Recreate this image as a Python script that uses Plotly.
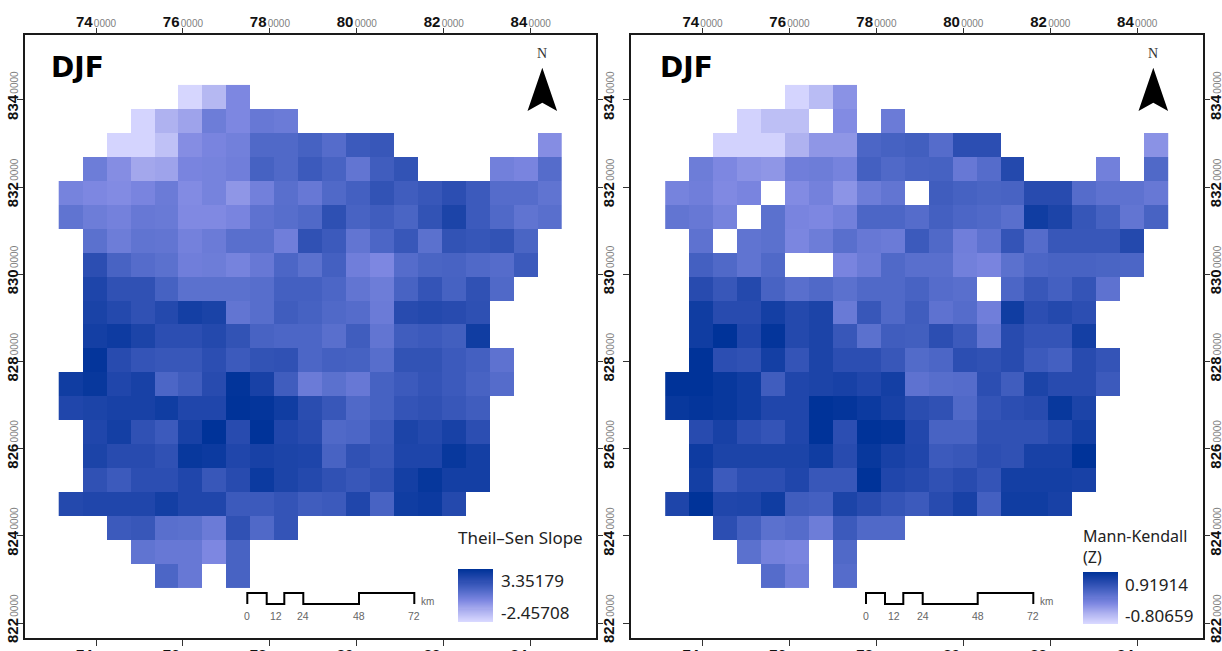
import plotly.graph_objects as go

N = None
W, H = 1222, 651

# Cell colours, as percent of each legend's colour stretch (rows north to south)
slope_pct = [
    [N]*5 + [1, 17, 40] + [N]*13,
    [N]*3 + [2, 20, 27, 47, 40, 50, 48] + [N]*11,
    [N]*2 + [2, 2, 12, 37, 42, 45, 60, 60, 65, 58, 70, 72] + [N]*6 + [37],
    [N, 47, 37, 25, 27, 42, 43, 46, 65, 60, 70, 64, 52, 68, 75, N, N, N, 45, 42, 58],
    [43, 40, 38, 42, 48, 38, 43, 33, 45, 56, 50, 60, 66, 75, 68, 72, 78, 70, 58, 58, 53],
    [53, 47, 44, 50, 49, 39, 39, 42, 54, 57, 60, 77, 64, 68, 63, 75, 86, 70, 60, 53, 56],
    [N, 55, 47, 53, 52, 44, 48, 56, 56, 46, 76, 70, 52, 62, 72, 55, 75, 73, 75, 63, N],
    [N, 78, 64, 58, 55, 46, 47, 43, 50, 62, 55, 66, 46, 40, 58, 63, 64, 60, 58, 70, N],
    [N, 85, 76, 76, 65, 55, 55, 55, 57, 66, 66, 62, 52, 47, 64, 74, 65, 76, 60, N, N],
    [N, 87, 82, 76, 82, 90, 87, 52, 57, 68, 65, 60, 58, 48, 80, 82, 80, 77, N, N, N],
    [N, 90, 93, 86, 78, 78, 82, 75, 64, 62, 62, 56, 68, 52, 68, 70, 67, 92, N, N, N],
    [N, 98, 80, 74, 72, 72, 78, 70, 75, 76, 62, 66, 65, 57, 75, 75, 70, 66, 54, N, N],
    [92, 96, 84, 88, 62, 68, 80, 99, 88, 68, 48, 55, 50, 65, 70, 74, 70, 64, 58, N, N],
    [84, 86, 88, 88, 92, 84, 84, 100, 98, 92, 79, 72, 60, 65, 74, 76, 72, 68, N, N, N],
    [N, 84, 90, 76, 70, 88, 100, 80, 100, 84, 80, 60, 62, 70, 86, 82, 88, 78, N, N, N],
    [N, 86, 80, 80, 76, 96, 94, 84, 88, 86, 85, 64, 76, 72, 85, 85, 96, 90, N, N, N],
    [N, 76, 70, 78, 78, 84, 72, 80, 94, 86, 82, 76, 72, 76, 90, 97, 90, 90, N, N, N],
    [82, 84, 84, 84, 90, 84, 84, 70, 70, 74, 68, 70, 84, 64, 92, 94, 82, N, N, N, N],
    [N, N, 70, 72, 56, 55, 48, 76, 60, 74] + [N]*11,
    [N, N, N, 53, 50, 50, 40, 64] + [N]*13,
    [N]*4 + [62, 50, N, 64] + [N]*13,
]
mk_pct = [
    [N]*5 + [2, 15, 35] + [N]*13,
    [N]*3 + [3, 13, 13, N, 38, N, 48] + [N]*11,
    [N, N, 3, 3, 3, 20, 33, 33, 62, 65, 67, 58, 78, 78] + [N]*6 + [35],
    [N, 47, 40, 35, 33, 46, 47, 43, 66, 60, 64, 65, 50, 58, 82, N, N, N, 45, N, 60],
    [43, 46, 39, 42, N, 38, 44, 34, 47, 52, N, 68, 65, 63, 64, 80, 80, 58, 54, 54, 50],
    [52, 50, 43, N, 55, 42, 40, 45, 62, 62, 58, 66, 62, 60, 56, 92, 86, 73, 65, 52, 64],
    [N, 54, N, 53, 55, 41, 47, 56, 50, 48, 70, 60, 46, 54, 74, 58, 72, 72, 72, 82, N],
    [N, 66, 60, 53, 60, N, N, 42, 48, 60, 56, 56, 45, 42, 55, 62, 64, 64, 63, 62, N],
    [N, 80, 72, 82, 64, 56, 60, 55, 60, 60, 64, 58, 56, N, 62, 72, 66, 74, 54, N, N],
    [N, 92, 80, 80, 90, 82, 86, 49, 72, 60, 68, 54, 58, 46, 92, 78, 82, 78, N, N, N],
    [N, 92, 100, 84, 98, 82, 86, 72, 55, 68, 67, 78, 70, 52, 80, 74, 74, 90, N, N, N],
    [N, 100, 78, 76, 90, 74, 86, 78, 78, 72, 59, 62, 78, 76, 80, 70, 66, 80, 74, N, N],
    [100, 100, 96, 92, 68, 84, 86, 88, 84, 90, 54, 57, 58, 78, 68, 86, 80, 80, 70, N, N],
    [96, 98, 96, 92, 84, 84, 100, 98, 94, 88, 79, 76, 60, 74, 78, 80, 96, 86, N, N, N],
    [N, 80, 88, 78, 74, 84, 100, 78, 100, 98, 83, 64, 64, 76, 76, 76, 82, 90, N, N, N],
    [N, 93, 86, 86, 86, 86, 92, 80, 96, 88, 84, 70, 72, 78, 76, 88, 88, 100, N, N, N],
    [N, 90, 70, 78, 78, 84, 72, 72, 100, 84, 81, 76, 80, 74, 90, 90, 90, 88, N, N, N],
    [85, 100, 84, 85, 92, 68, 66, 86, 80, 74, 70, 80, 88, 66, 92, 92, 88, N, N, N, N],
    [N, N, 78, 66, 55, 58, 47, 70, 60, 60] + [N]*11,
    [N, N, N, 55, 44, 42, N, 60] + [N]*13,
    [N]*4 + [58, 46, N, 58] + [N]*13,
]

x_ticks = [74, 76, 78, 80, 82, 84]
y_ticks = [822, 824, 826, 828, 830, 832, 834]
scale_km = [0, 12, 24, 48, 72]
season = "DJF"
slope_title = "Theil–Sen Slope"
mk_title = "Mann-Kendall<br>(Z)"
slope_limits = ["3.35179", "-2.45708"]
mk_limits = ["0.91914", "-0.80659"]
legend_ramp = [[v] for v in range(100, -1, -2)]

ramp = [
    [0.00, "#d8d8ff"], [0.20, "#afb2f0"], [0.40, "#7d87e1"],
    [0.60, "#5069c8"], [0.80, "#284baf"], [1.00, "#003399"],
]
FRAME = "#1a1a1a"
SANS = "Liberation Sans"
LEG = "Noto Sans"

px = lambda x: x / W
py = lambda y: 1 - y / H


def lab(v):
    return f"<b>{v}</b>\u200a<span style='font-size:10px;color:#808080'>0000</span>"


x_lab = [lab(v) for v in x_ticks]
y_lab = [lab(v) for v in y_ticks]
xr = [72.355, 85.502]
yr = [821.656, 835.49]
panels = [
    dict(l=24.5, r=596, z=slope_pct, lim=slope_limits, cb=(458, 493, 569, 622), lab_y=(580, 612),
         lab_x=499, leg_x=456, leg_y=537, leg_size=17, title=slope_title, left_labels=True, season_x=49),
    dict(l=631, r=1202.5, z=mk_pct, lim=mk_limits, cb=(1083, 1118, 572, 624), lab_y=(584, 615),
         lab_x=1123, leg_x=1081, leg_y=546, leg_size=16, title=mk_title, left_labels=False, season_x=658),
]

fig = go.Figure()
layout = dict(template="none", width=W, height=H, margin=dict(l=0, r=0, t=0, b=0, pad=0), autosize=False,
              paper_bgcolor="white", plot_bgcolor="white", showlegend=False)
shapes, annos = [], []
top_y, bot_y = 35, 638

for i, p in enumerate(panels):
    a, b, c = 3 * i + 1, 3 * i + 2, 3 * i + 3   # bottom/left axes, top/right axes, legend axes
    dx = [px(p["l"]), px(p["r"])]
    dy = [py(bot_y), py(top_y)]
    common = dict(ticks="outside", ticklen=6, tickwidth=1, tickcolor="#333", showgrid=False,
                  zeroline=False, automargin=False, tickfont=dict(family=SANS, size=15, color="#111"))
    ysty = dict(ticklabelstandoff=-7, ticklabelshift=-2)
    layout[f"xaxis{a}"] = dict(domain=dx, range=xr, anchor=f"y{a}", side="bottom", tickmode="array",
                               tickvals=x_ticks, ticktext=x_lab, tickangle=0, showline=True,
                               linecolor=FRAME, linewidth=2, mirror=True, ticklabelstandoff=-4, **common)
    layout[f"yaxis{a}"] = dict(domain=dy, range=yr, anchor=f"x{a}", side="left", tickmode="array",
                               tickvals=y_ticks, ticktext=y_lab if p["left_labels"] else [""] * 7,
                               tickangle=-90, showline=True, linecolor=FRAME, linewidth=2,
                               mirror=True, **ysty, **common)
    layout[f"xaxis{b}"] = dict(domain=dx, range=xr, anchor=f"y{b}", overlaying=f"x{a}", side="top",
                               tickmode="array", tickvals=x_ticks, ticktext=x_lab, tickangle=0,
                               ticklabelstandoff=-5, **common)
    layout[f"yaxis{b}"] = dict(domain=dy, range=yr, anchor=f"x{b}", overlaying=f"y{a}", side="right",
                               tickmode="array", tickvals=y_ticks, ticktext=y_lab, tickangle=-90,
                               **ysty, **common)

    fig.add_trace(go.Heatmap(
        z=p["z"], x0=73.4175, dx=0.551, y0=834.069, dy=-0.55,
        zmin=0, zmax=100, colorscale=ramp, xaxis=f"x{a}", yaxis=f"y{a}", hoverongaps=False,
        showscale=False))
    fig.add_trace(go.Scatter(x=[], y=[], xaxis=f"x{b}", yaxis=f"y{b}", showlegend=False))

    # legend swatch
    x0, x1, y0, y1 = p["cb"]
    layout[f"xaxis{c}"] = dict(domain=[px(x0), px(x1)], anchor=f"y{c}", visible=False, fixedrange=True,
                               automargin=False)
    layout[f"yaxis{c}"] = dict(domain=[py(y1), py(y0)], anchor=f"x{c}", visible=False, fixedrange=True,
                               automargin=False, autorange="reversed")
    fig.add_trace(go.Heatmap(z=legend_ramp, zmin=0, zmax=100, colorscale=ramp, showscale=False,
                             xaxis=f"x{c}", yaxis=f"y{c}", hoverinfo="skip"))
    for text, yy in zip(p["lim"], p["lab_y"]):
        annos.append(dict(text=text, xref="paper", yref="paper", x=px(p["lab_x"]), y=py(yy),
                          xanchor="left", yanchor="middle", showarrow=False,
                          font=dict(family=LEG, size=17, color="#222")))

    # season label
    annos.append(dict(text=f"<b>{season}</b>", xref="paper", yref="paper", x=px(p["season_x"]),
                      y=py(67), xanchor="left", yanchor="middle", showarrow=False,
                      font=dict(family="DejaVu Sans", size=28, color="black")))
    # north arrow
    ax = 542.3 + (611 if i else 0)
    shapes.append(dict(type="path", xref="paper", yref="paper", fillcolor="black", line_width=0,
                       path=f"M {px(ax)} {py(67.7)} L {px(ax+14.8)} {py(111)} L {px(ax)} {py(102.7)} "
                            f"L {px(ax-14.8)} {py(111)} Z"))
    annos.append(dict(text="N", xref="paper", yref="paper", x=px(ax), y=py(54), xanchor="center",
                      yanchor="middle", showarrow=False,
                      font=dict(family="Liberation Serif", size=14, color="#333")))
    # scale bar
    sx = [247.3, 266.7, 284.3, 303.3, 359, 414.3]
    if i:
        sx = [866, 885, 903.3, 922.7, 977.7, 1033.3]
    hi, lo = 593, 604
    pts = [(sx[0], lo), (sx[0], hi), (sx[1], hi), (sx[1], lo), (sx[2], lo), (sx[2], hi),
           (sx[3], hi), (sx[3], lo), (sx[4], lo), (sx[4], hi), (sx[5], hi), (sx[5], lo)]
    path = "M " + " L ".join(f"{px(u)} {py(v)}" for u, v in pts)
    shapes.append(dict(type="path", xref="paper", yref="paper", path=path,
                       line=dict(color="black", width=2), fillcolor="rgba(0,0,0,0)"))
    lab_x = [sx[0], (sx[1] + sx[2]) / 2, sx[3], sx[4], sx[5]]
    for km, u in zip(scale_km, lab_x):
        annos.append(dict(text=str(km), xref="paper", yref="paper", x=px(u), y=py(616), xanchor="center",
                          yanchor="middle", showarrow=False,
                          font=dict(family=SANS, size=10.5, color="#666")))
    annos.append(dict(text="km", xref="paper", yref="paper", x=px(sx[5] + 13), y=py(601), xanchor="center",
                      yanchor="middle", showarrow=False,
                      font=dict(family=SANS, size=10, color="#666")))
    # legend title
    annos.append(dict(text=p["title"], xref="paper", yref="paper", x=px(p["leg_x"]), y=py(p["leg_y"]),
                      xanchor="left", yanchor="middle", align="left", showarrow=False,
                      font=dict(family=LEG, size=p["leg_size"], color="#222")))

layout["shapes"] = shapes
layout["annotations"] = annos
fig.update_layout(**layout)
fig.write_html("out.html", config={"displayModeBar": False},
               post_script="document.body.style.margin='0';")
